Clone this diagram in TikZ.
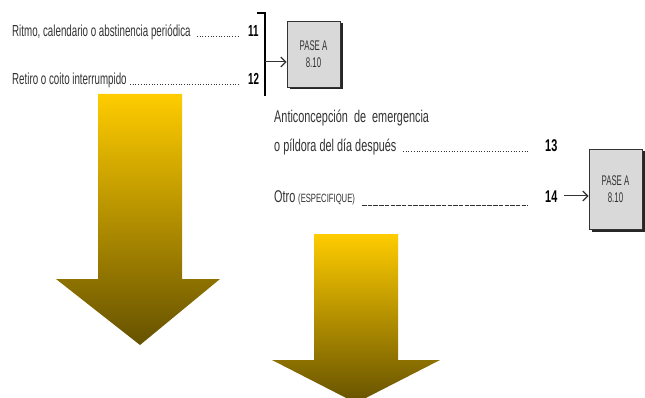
\documentclass[tikz,border=0pt]{standalone}
\usepackage{fontspec}
\setmainfont{Liberation Sans}
\newfontfamily\narA[FakeStretch=0.61]{Liberation Sans}
\newfontfamily\narB[FakeStretch=0.64]{Liberation Sans}
\newfontfamily\narC[FakeStretch=0.56]{Liberation Sans}
\usetikzlibrary{arrows.meta,shadows}
\definecolor{txt}{HTML}{333333}
\definecolor{boxfill}{HTML}{D9D9D9}
\definecolor{gold}{HTML}{FFCC00}
\definecolor{brown}{HTML}{665200}
\tikzset{
  lbl/.style={anchor=base west, inner sep=0pt, text=txt, font=\narA\fontsize{16}{18}\selectfont},
  lblb/.style={anchor=base west, inner sep=0pt, text=txt, font=\narB\fontsize{17}{19}\selectfont},
  num/.style={anchor=base west, inner sep=0pt, text=black, font=\narA\bfseries\fontsize{16}{18}\selectfont},
  numb/.style={anchor=base west, inner sep=0pt, text=black, font=\narB\bfseries\fontsize{17}{19}\selectfont},
  dotline/.style={draw=txt, line width=0.8pt, dash pattern=on 0.8pt off 1.9pt},
  dashline/.style={draw=txt, line width=0.8pt, dash pattern=on 4.5pt off 1.2pt},
  pasebox/.style={draw=txt, line width=0.8pt, fill=boxfill, minimum width=53pt, inner sep=0pt,
     align=center, text=txt, font=\narC\fontsize{14}{17}\selectfont,
     general shadow={fill=black!85, shadow xshift=2.5pt, shadow yshift=-2.5pt}},
  conn/.style={draw=txt, line width=1pt, -{Straight Barb[length=5pt,width=10pt,line width=1.2pt]}},
  bigarrow/.style={top color=gold, bottom color=brown, draw=none}
}
\begin{document}
\begin{tikzpicture}[x=1pt,y=-1pt]
\useasboundingbox (0,0) rectangle (645,398);
\fill[white] (0,0) rectangle (645,398);

% block 1
\node[lbl] (t11) at (12,37) {Ritmo, calendario o abstinencia periódica};
\node[num] (n11) at (248,37) {11};
\draw[dotline] (197,36) -- (240,36);
\node[lbl] (t12) at (12,85) {Retiro o coito interrumpido};
\node[num] (n12) at (248,85) {12};
\draw[dotline] (130,84) -- (240,84);
\draw[line width=1.8pt, draw=black] (257,13) -- (265,13) -- (265,96);
\coordinate (brk) at (265,62);
\node[pasebox, minimum height=66pt] (box1) at (313.5,54) {PASE A\\8.10};
\draw[conn] (brk) -- (brk -| box1.west);

% block 2
\node[lblb] (t13a) at (274,123) {Anticoncepción\ \ de\ \ emergencia};
\node[lblb] (t13) at (274,152) {o píldora del día después};
\draw[dotline] (403,151) -- (528,151);
\node[numb] (n13) at (545,152) {13};
\node[lblb] (t14) at (274,203) {Otro\,{\fontsize{12}{13}\selectfont(ESPECIFIQUE)}};
\draw[dashline] (362,205) -- (528,205);
\node[numb] (n14) at (545,203) {14};
\coordinate (a14) at (564,196);
\node[pasebox, minimum height=80pt] (box2) at (615.5,189) {PASE A\\8.10};
\draw[conn] (a14) -- (a14 -| box2.west);

% big arrows
\shade[bigarrow] (98,94) -- (182,94) -- (182,279) -- (220,279) -- (140,345) -- (56,279) -- (98,279) -- cycle;
\begin{scope}
\clip (0,0) rectangle (645,398);
\shade[bigarrow] (314,234) -- (398,234) -- (398,360) -- (440,360) -- (356,403) -- (272,360) -- (314,360) -- cycle;
\end{scope}
\end{tikzpicture}
\end{document}
